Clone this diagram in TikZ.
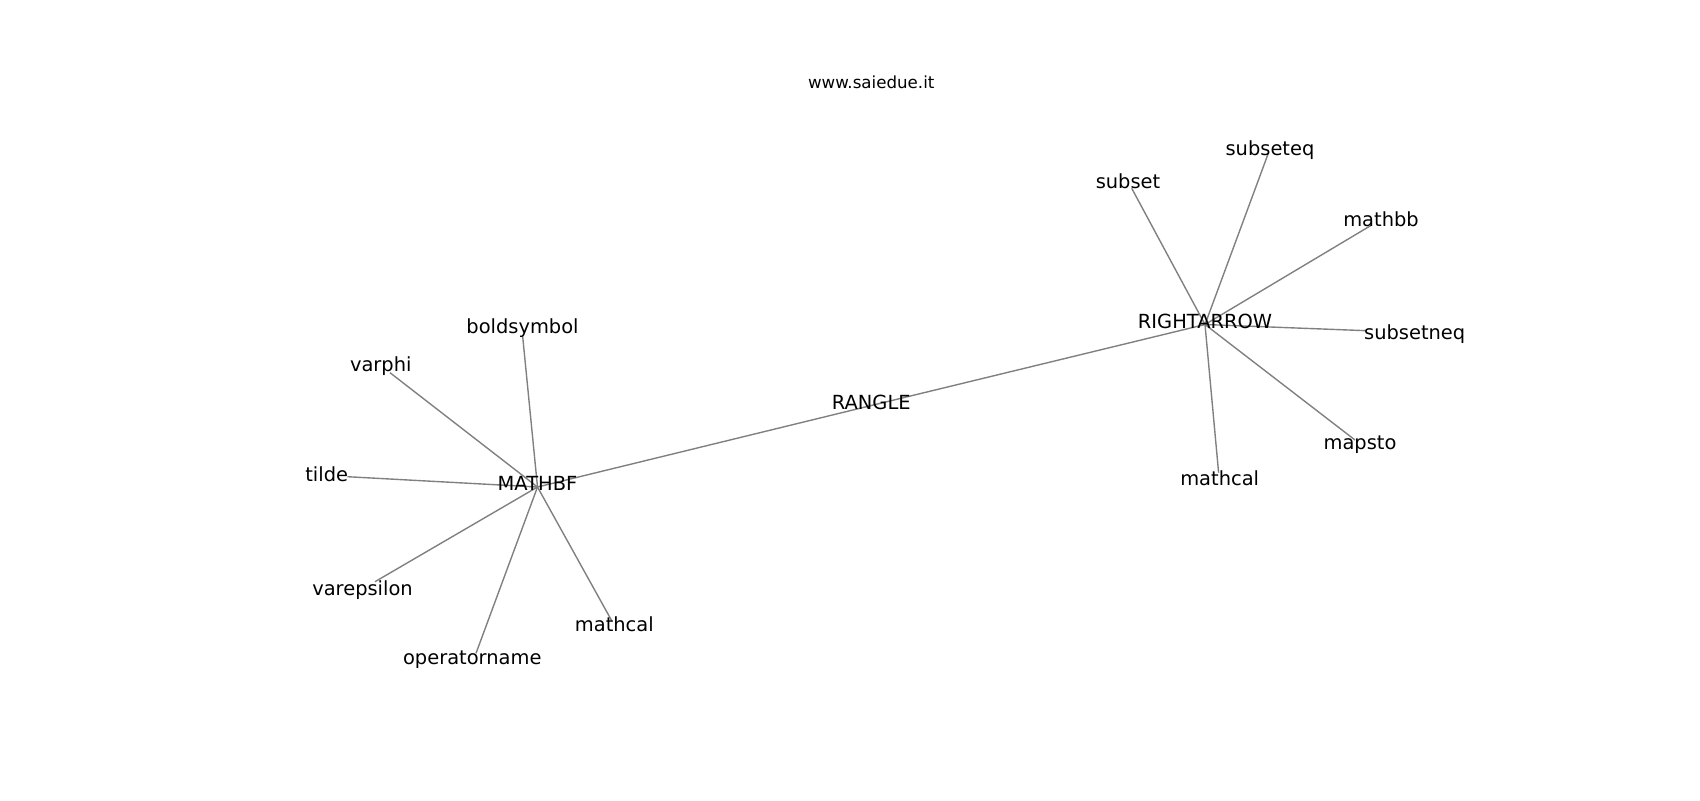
\documentclass[tikz,border=0pt]{standalone}
\usepackage{fontspec}
\setmainfont{DejaVu Sans}
\pgfdeclarelayer{bg}
\pgfsetlayers{bg,main}
\begin{document}
\begin{tikzpicture}[x=0.72pt,y=-0.72pt,
  lbl/.style={inner sep=0pt, text height=0.76em, text depth=0.236em, font=\fontsize{14}{16}\selectfont},
  ttl/.style={inner sep=0pt, anchor=base, font=\fontsize{12}{14}\selectfont},
  edge/.style={draw=gray, line width=1pt}]
\useasboundingbox (0,0) rectangle (1700,800);
\node[ttl] (title) at (871.25,88.7) {www.saiedue.it};
% hubs
\node[lbl] (mathbf) at (537.5,487) {MATHBF};
\node[lbl] (rangle) at (871.25,405.5) {RANGLE};
\node[lbl] (rightarrow) at (1205,324.5) {RIGHTARROW};
% left leaves
\node[lbl] (boldsymbol) at (522.5,329.7) {boldsymbol};
\coordinate (pboldsymbol) at (522.7,336.7);
\node[lbl] (varphi) at (380.8,367.5) {varphi};
\coordinate (pvarphi) at (390,372.7);
\node[lbl] (tilde) at (326.7,478) {tilde};
\coordinate (ptilde) at (347.3,476.7);
\node[lbl] (varepsilon) at (362.5,591.5) {varepsilon};
\coordinate (pvarepsilon) at (375,581.7);
\node[lbl] (operatorname) at (472.3,660.7) {operatorname};
\coordinate (poperatorname) at (476,653.3);
\node[lbl] (mathcalL) at (614.3,628) {mathcal};
\coordinate (pmathcalL) at (611.7,620.7);
% right leaves
\node[lbl] (subset) at (1128,184.7) {subset};
\coordinate (psubset) at (1131.7,188.3);
\node[lbl] (subseteq) at (1270,151.5) {subseteq};
\coordinate (psubseteq) at (1268.3,153.3);
\node[lbl] (mathbb) at (1381,222.5) {mathbb};
\coordinate (pmathbb) at (1371.7,225);
\node[lbl] (subsetneq) at (1414.7,335.7) {subsetneq};
\coordinate (psubsetneq) at (1366.7,330.7);
\node[lbl] (mapsto) at (1360,445.7) {mapsto};
\coordinate (pmapsto) at (1355,440);
\node[lbl] (mathcalR) at (1219.7,481.8) {mathcal};
\coordinate (pmathcalR) at (1218.6,472.7);
\begin{pgfonlayer}{bg}
\fill[white] (0,0) rectangle (1700,800);
\draw[edge] (mathbf.center) -- (rangle.center) -- (rightarrow.center);
\foreach \p in {pboldsymbol,pvarphi,ptilde,pvarepsilon,poperatorname,pmathcalL}
  \draw[edge] (mathbf.center) -- (\p);
\foreach \p in {psubset,psubseteq,pmathbb,psubsetneq,pmapsto,pmathcalR}
  \draw[edge] (rightarrow.center) -- (\p);
\end{pgfonlayer}
\end{tikzpicture}
\end{document}
